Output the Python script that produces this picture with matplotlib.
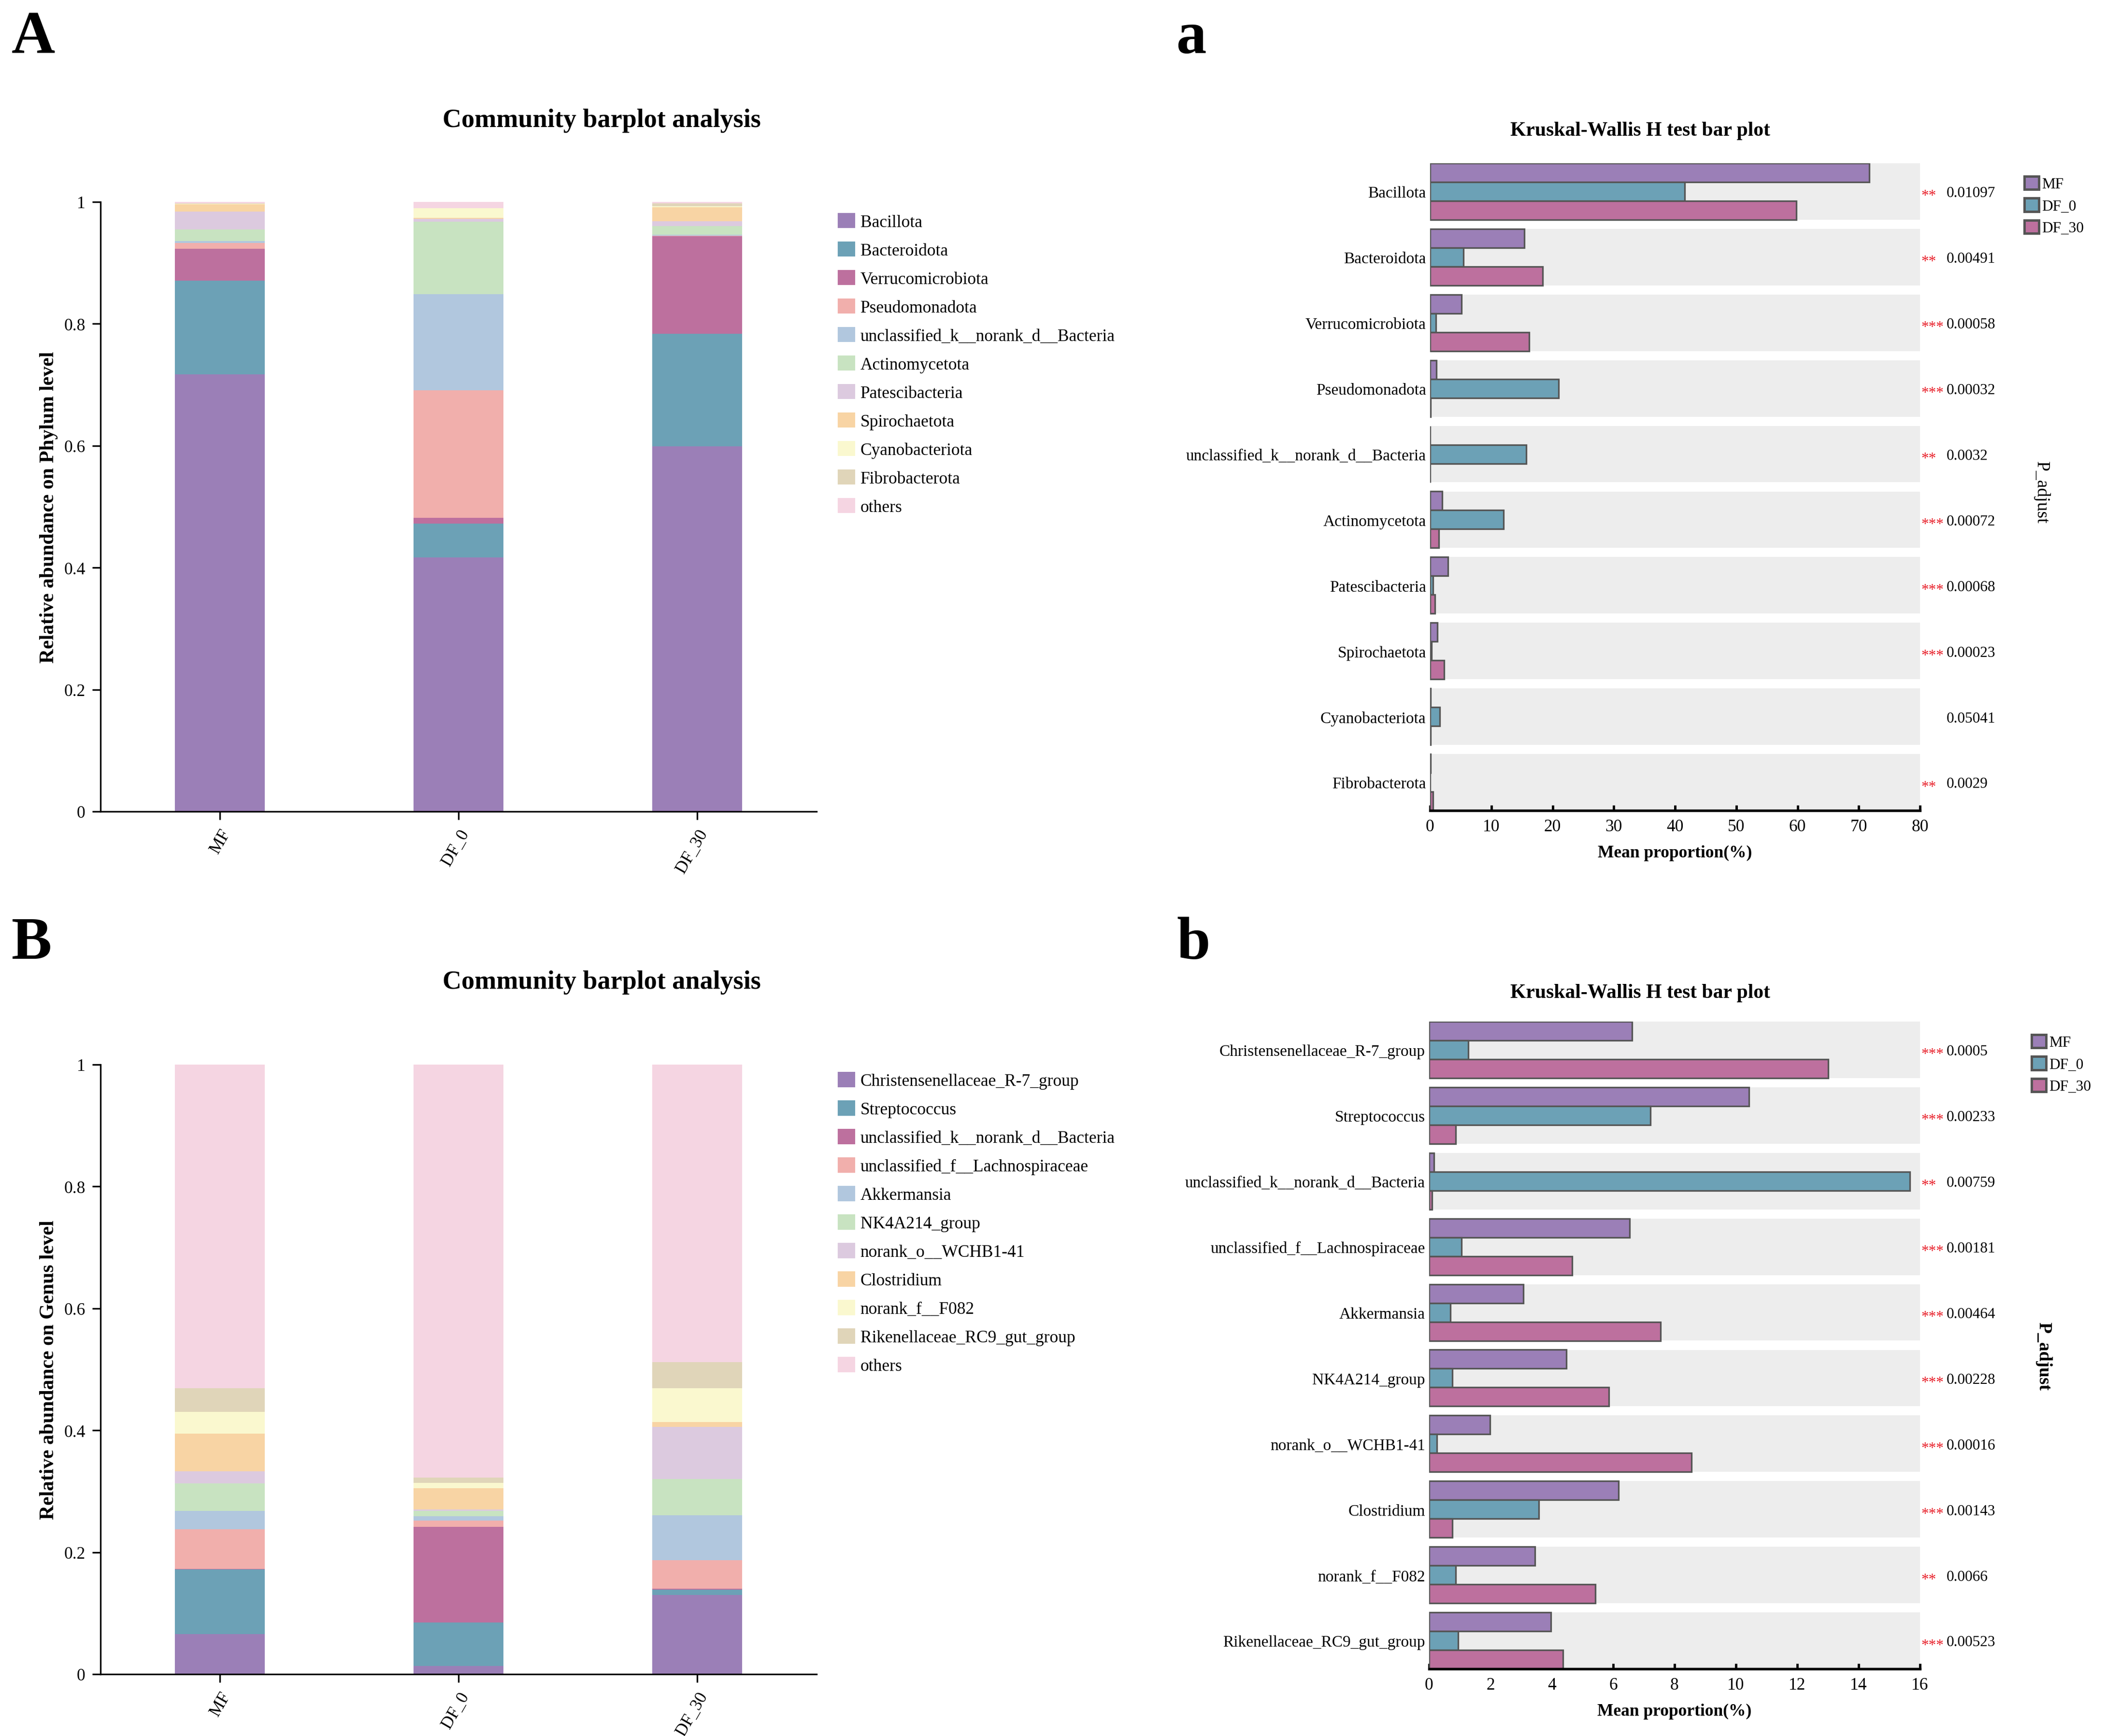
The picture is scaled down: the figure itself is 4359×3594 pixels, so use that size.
import numpy as np
import matplotlib.pyplot as plt
from matplotlib.patches import Patch
from matplotlib.transforms import blended_transform_factory

plt.rcParams['font.family'] = ['Liberation Serif', 'DejaVu Serif']

# ---- data ----
groups = ['MF', 'DF_0', 'DF_30']

phyla = ['Bacillota', 'Bacteroidota', 'Verrucomicrobiota', 'Pseudomonadota',
         'unclassified_k__norank_d__Bacteria', 'Actinomycetota', 'Patescibacteria',
         'Spirochaetota', 'Cyanobacteriota', 'Fibrobacterota', 'others']
phylum_mf = [0.717, 0.154, 0.052, 0.010, 0.003, 0.019, 0.029, 0.012, 0.001, 0.0005, 0.0025]
phylum_df0 = [0.417, 0.055, 0.0095, 0.2095, 0.1576, 0.1187, 0.0053, 0.0013, 0.0158, 0.0003, 0.010]
phylum_df30 = [0.599, 0.185, 0.160, 0.0005, 0.0013, 0.0143, 0.0079, 0.023, 0.0015, 0.0048, 0.0027]

genera = ['Christensenellaceae_R-7_group', 'Streptococcus', 'unclassified_k__norank_d__Bacteria',
          'unclassified_f__Lachnospiraceae', 'Akkermansia', 'NK4A214_group',
          'norank_o__WCHB1-41', 'Clostridium', 'norank_f__F082',
          'Rikenellaceae_RC9_gut_group', 'others']
genus_mf = [0.066, 0.106, 0.001, 0.065, 0.030, 0.045, 0.020, 0.062, 0.035, 0.039, 0.531]
genus_df0 = [0.0135, 0.071, 0.157, 0.0106, 0.0071, 0.0086, 0.0025, 0.0345, 0.0086, 0.0093, 0.6773]
genus_df30 = [0.130, 0.009, 0.001, 0.047, 0.074, 0.059, 0.086, 0.008, 0.055, 0.043, 0.488]

# Kruskal-Wallis mean proportions (%)
kw_phyla = phyla[:10]
kw_phy_mf = [71.7, 15.4, 5.1, 1.05, 0.03, 2.0, 2.9, 1.15, 0.05, 0.05]
kw_phy_df0 = [41.6, 5.45, 0.96, 21.0, 15.7, 12.0, 0.5, 0.2, 1.6, 0.03]
kw_phy_df30 = [59.8, 18.4, 16.2, 0.05, 0.03, 1.45, 0.77, 2.3, 0.05, 0.5]
kw_phy_p = ['0.01097', '0.00491', '0.00058', '0.00032', '0.0032',
            '0.00072', '0.00068', '0.00023', '0.05041', '0.0029']
kw_phy_sig = ['**', '**', '***', '***', '**', '***', '***', '***', '', '**']

kw_genera = genera[:10]
kw_gen_mf = [6.62, 10.42, 0.15, 6.53, 3.07, 4.47, 1.98, 6.18, 3.45, 3.97]
kw_gen_df0 = [1.28, 7.21, 15.67, 1.05, 0.69, 0.76, 0.25, 3.57, 0.86, 0.95]
kw_gen_df30 = [13.0, 0.86, 0.1, 4.66, 7.54, 5.86, 8.55, 0.76, 5.42, 4.37]
kw_gen_p = ['0.0005', '0.00233', '0.00759', '0.00181', '0.00464',
            '0.00228', '0.00016', '0.00143', '0.0066', '0.00523']
kw_gen_sig = ['***', '***', '**', '***', '***', '***', '***', '***', '**', '***']

colors = ['#9B7FB7', '#6CA1B6', '#BD709E', '#F1AFAC', '#B1C7DE', '#C8E3C1',
          '#DCCADF', '#F8D4A4', '#FAF8CF', '#E0D5B9', '#F5D5E2']
group_colors = colors[:3]

W, H = 4359, 3595
fig = plt.figure(figsize=(W / 300, H / 300), dpi=300)


def stacked(rect, taxa, values, ylabel, leg_top):
    ax = fig.add_axes(rect)
    vals = np.array(values)
    x = np.arange(len(groups))
    bottom = np.zeros(len(groups))
    for i, name in enumerate(taxa):
        ax.bar(x, vals[:, i], 0.375, bottom=bottom, color=colors[i], linewidth=0, label=name)
        bottom += vals[:, i]
    ax.set_xlim(-0.5, 2.5)
    ax.set_ylim(0, 1)
    ax.set_yticks(np.arange(0, 1.01, 0.2))
    ax.set_yticklabels(['0', '0.2', '0.4', '0.6', '0.8', '1'], fontsize=8.5)
    ax.set_xticks(x)
    ax.set_xticklabels(groups, fontsize=8.5, rotation=60, ha='right', va='top',
                       rotation_mode='anchor')
    for s in ['top', 'right']:
        ax.spines[s].set_visible(False)
    for s in ['left', 'bottom']:
        ax.spines[s].set_linewidth(0.8)
    ax.tick_params(length=4, width=0.8)
    ax.set_ylabel(ylabel, fontsize=10, fontweight='bold', labelpad=3)
    handles = [Patch(facecolor=c, edgecolor='none') for c in colors]
    ax.legend(handles, taxa, loc='upper left', bbox_to_anchor=(1.03, leg_top),
              frameon=False, fontsize=8.5, handlelength=1.0, handleheight=1.0,
              handletextpad=0.3, labelspacing=0.65, borderpad=0, borderaxespad=0)
    return ax


def kw(rect, taxa, mf, df0, df30, pvals, sig, xmax, xstep, leg_x):
    ax = fig.add_axes(rect)
    y = np.arange(len(taxa))
    h = 0.287
    ax.barh(y, xmax, 0.86, color='#EDEDED', linewidth=0, zorder=0)
    for k, (vals, c) in enumerate(zip([mf, df0, df30], group_colors)):
        ax.barh(y + (k - 1) * h, vals, h, color=c, edgecolor='#555555',
                linewidth=0.8, zorder=2)
    ax.set_xlim(0, xmax)
    ax.set_ylim(len(taxa) - 1 + 0.43, -0.43)
    ax.set_yticks(y)
    ax.set_yticklabels(taxa, fontsize=8)
    ax.tick_params(axis='y', length=0, pad=2)
    ax.set_xticks(np.arange(0, xmax + 0.1, xstep))
    ax.tick_params(axis='x', direction='in', length=2.6, width=1.2, labelsize=8.5, pad=4)
    for s in ['top', 'right', 'left']:
        ax.spines[s].set_visible(False)
    ax.spines['bottom'].set_linewidth(1.3)
    ax.set_xlabel('Mean proportion(%)', fontsize=8.5, fontweight='bold', labelpad=5)
    tr = blended_transform_factory(ax.transAxes, ax.transData)
    for yi, p, s in zip(y, pvals, sig):
        ax.text(1.002, yi + 0.125, s, transform=tr, color='#E8202A', fontsize=7.5,
                va='baseline', ha='left')
        ax.text(1.054, yi + 0.08, p, transform=tr, fontsize=7.5, va='baseline', ha='left')
    handles = [Patch(facecolor=c, edgecolor='#555555', linewidth=1.2) for c in group_colors]
    ax.legend(handles, groups, loc='upper left', bbox_to_anchor=(leg_x, 0.98),
              frameon=False, fontsize=7.5, handlelength=0.97, handleheight=0.97,
              handletextpad=0.2, labelspacing=0.45, borderpad=0, borderaxespad=0)
    return ax


# left stacked panels
stacked([208 / W, 1 - 1681 / H, 1482 / W, 1262 / H], phyla,
        [phylum_mf, phylum_df0, phylum_df30], 'Relative abundance on Phylum level', 0.982)
stacked([208 / W, 1 - 3467 / H, 1482 / W, 1262 / H], genera,
        [genus_mf, genus_df0, genus_df30], 'Relative abundance on Genus level', 0.988)

# right Kruskal-Wallis panels
kw([2960 / W, 1 - 1679 / H, 1014 / W, 1340 / H], kw_phyla,
   kw_phy_mf, kw_phy_df0, kw_phy_df30, kw_phy_p, kw_phy_sig, 80, 10, 1.213)
kw([2958 / W, 1 - 3456 / H, 1016 / W, 1340 / H], kw_genera,
   kw_gen_mf, kw_gen_df0, kw_gen_df30, kw_gen_p, kw_gen_sig, 16, 2, 1.227)

# titles and labels
fig.text(1245 / W, 1 - 250 / H, 'Community barplot analysis', fontsize=13,
         fontweight='bold', ha='center', va='center')
fig.text(1245 / W, 1 - 2034 / H, 'Community barplot analysis', fontsize=13,
         fontweight='bold', ha='center', va='center')
fig.text(3395 / W, 1 - 271 / H, 'Kruskal-Wallis H test bar plot', fontsize=10,
         fontweight='bold', ha='center', va='center')
fig.text(3395 / W, 1 - 2056 / H, 'Kruskal-Wallis H test bar plot', fontsize=10,
         fontweight='bold', ha='center', va='center')
fig.text(4225 / W, 1 - 1020 / H, 'P_adjust', fontsize=9, rotation=270,
         ha='center', va='center')
fig.text(4230 / W, 1 - 2808 / H, 'P_adjust', fontsize=9, fontweight='bold',
         rotation=270, ha='center', va='center')

for lab, xp, yp in [('A', 24, 110), ('a', 2435, 110), ('B', 24, 1985), ('b', 2435, 1985)]:
    fig.text(xp / W, 1 - yp / H, lab, fontsize=30, fontweight='bold',
             ha='left', va='baseline')

fig.savefig('out.png', dpi=300)
